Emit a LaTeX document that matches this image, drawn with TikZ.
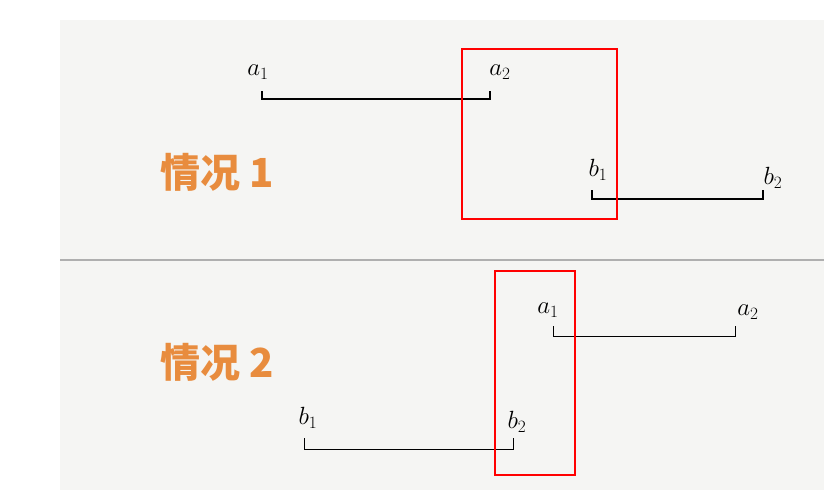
\documentclass[tikz,border=0pt]{standalone}
\usepackage{fontspec}
\newfontfamily\cjk{Noto Sans CJK SC}
\definecolor{paper}{RGB}{245,245,243}
\definecolor{orng}{RGB}{232,140,62}
\definecolor{sep}{RGB}{175,175,175}
\begin{document}
\begin{tikzpicture}[x=1pt,y=-1pt,
  seg/.style={line width=1.3pt},
  lab/.style={font=\fontsize{24}{26}\selectfont},
  title/.style={font=\cjk\bfseries\fontsize{40}{44}\selectfont, text=orng},
  frame/.style={draw=red, line width=1.2pt}]
\useasboundingbox (0,0) rectangle (824,495);
\fill[paper] (60,20) rectangle (824,490);
\draw[sep, line width=1.5pt] (60,260) -- (824,260);
\node[title] (t1) at (217,172) {情况 1};
\node[title] (t2) at (217,362) {情况 2};
% case 1
\coordinate (a1) at (262,99); \coordinate (a2) at (490,99);
\draw[seg] (262,91) -- (a1) -- (a2) -- (490,91);
\node[lab] (la1) at (258,72) {$a_1$};
\node[lab] (la2) at (500,72) {$a_2$};
\coordinate (b1) at (592,199); \coordinate (b2) at (763,199);
\draw[seg] (592,190) -- (b1) -- (b2) -- (763,190);
\node[lab] (lb1) at (598,170) {$b_1$};
\node[lab] (lb2) at (773,178) {$b_2$};
\draw[frame] (462,49) rectangle (617,219);
% case 2
\coordinate (c1) at (553,336); \coordinate (c2) at (735,336);
\draw[seg, line width=1pt] (553,326) -- (c1) -- (c2) -- (735,326);
\node[lab] (lc1) at (548,310) {$a_1$};
\node[lab] (lc2) at (748,312) {$a_2$};
\coordinate (d1) at (304,449); \coordinate (d2) at (513,449);
\draw[seg, line width=1pt] (304,438) -- (d1) -- (d2) -- (513,438);
\node[lab] (ld1) at (308,418) {$b_1$};
\node[lab] (ld2) at (517,422) {$b_2$};
\draw[frame] (495,271) rectangle (575,475);
\end{tikzpicture}
\end{document}
